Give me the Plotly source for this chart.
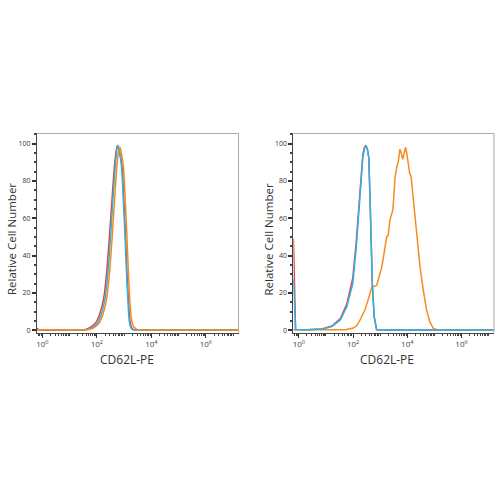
import plotly.graph_objects as go

# ---------------- data (x given as log10 of CD62L-PE intensity) ----------------
# Left panel
L_red_x   = [-0.2, -0.1, 1.0, 1.55, 1.76, 1.98, 2.11, 2.25, 2.36, 2.47, 2.57, 2.64, 2.72, 2.76, 2.82, 2.93, 2.99, 3.05, 3.11, 3.16, 3.21, 3.26, 3.34, 4.0, 7.2]
L_red_y   = [1.0, 0.2, 0.2, 0.3, 1.5, 4.5, 9, 17, 31, 52, 73, 87, 97, 99, 96, 87, 70, 51.6, 30, 16, 6, 2, 0.3, 0.1, 0.1]
L_cyan_x  = [-0.2, 1.0, 1.59, 1.8, 2.02, 2.15, 2.29, 2.40, 2.51, 2.60, 2.67, 2.74, 2.78, 2.83, 2.91, 2.97, 3.03, 3.09, 3.14, 3.18, 3.23, 3.30, 4.0, 7.2]
L_cyan_y  = [0.2, 0.2, 0.3, 1.2, 3.7, 8, 16, 30, 51.6, 72, 87, 97, 99, 96, 87, 70, 51.6, 30, 16, 6, 2, 0.3, 0.1, 0.1]
L_orng_x  = [-0.2, 1.0, 1.65, 1.87, 2.08, 2.21, 2.35, 2.46, 2.57, 2.66, 2.73, 2.80, 2.85, 2.90, 2.98, 3.04, 3.10, 3.16, 3.21, 3.27, 3.35, 3.49, 4.0, 7.2]
L_orng_y  = [0.2, 0.2, 0.3, 1.2, 3.7, 8, 16, 30, 51.6, 72, 87, 96, 98, 95, 87, 70, 51.6, 30, 16, 6, 2, 0.3, 0.1, 0.1]

# Right panel
R_red_x   = [-0.2, -0.12, 0.3, 0.67, 0.85, 1.22, 1.53, 1.77, 1.99, 2.11, 2.20, 2.29, 2.36, 2.42, 2.47, 2.53, 2.58, 2.63, 2.68, 2.71, 2.78, 2.87, 3.2, 7.2]
R_red_y   = [49, 0.4, 0.2, 0.3, 0.7, 2.3, 6.2, 14, 28, 46, 64, 82, 94, 98, 99, 97, 92.5, 69, 42.8, 25, 7.3, 0.3, 0.1, 0.1]
R_cyan_x  = [-0.2, -0.12, 0.3, 0.67, 0.85, 1.22, 1.53, 1.77, 1.99, 2.11, 2.20, 2.29, 2.36, 2.43, 2.48, 2.53, 2.58, 2.63, 2.68, 2.71, 2.78, 2.87, 3.2, 7.2]
R_cyan_y  = [27.5, 0.4, 0.2, 0.3, 0.6, 2, 5.5, 12.6, 25, 42.8, 60.5, 78, 92.5, 97.5, 98.7, 97, 92.5, 69, 42.8, 25, 7.3, 0.3, 0.1, 0.1]
R_orng_x  = [-0.2, 1.0, 1.71, 2.01, 2.14, 2.26, 2.44, 2.55, 2.63, 2.70, 2.80, 2.87, 2.93, 3.00, 3.06, 3.12, 3.18, 3.24, 3.30, 3.36, 3.43, 3.47, 3.51, 3.55, 3.61, 3.67, 3.73, 3.78, 3.83, 3.88, 3.94, 3.99, 4.04, 4.09, 4.14, 4.22, 4.35, 4.47, 4.59, 4.71, 4.83, 4.96, 5.14, 7.2]
R_orng_y  = [0.2, 0.2, 0.3, 1.2, 2.5, 5.5, 11, 16, 20, 23.3, 23.5, 24, 27, 30.4, 34, 39, 43.5, 50, 51, 59, 62.5, 64.5, 73, 82, 87.2, 90.5, 97, 95, 91.5, 95, 98, 94, 87.5, 84, 82.5, 71, 52, 34, 21.5, 11, 4.6, 1, 0.2, 0.2]

label_exp = [0, 2, 4, 6]
y_ticks = [0, 20, 40, 60, 80, 100]
x_title = "CD62L-PE"
y_title = "Relative Cell Number"

RED, CYAN, ORANGE = "#e5443d", "#27b5e8", "#f68b1f"

# ---------------- figure ----------------
fig = go.Figure()

def add(x, y, color, axis, shape):
    fig.add_trace(go.Scatter(
        x=[10 ** v for v in x], y=y, mode="lines",
        line=dict(color=color, width=1.5, shape=shape, smoothing=0.6),
        xaxis="x" + axis, yaxis="y" + axis, showlegend=False, hoverinfo="skip"))

add(L_red_x, L_red_y, RED, "", "spline")
add(L_cyan_x, L_cyan_y, CYAN, "", "spline")
add(L_orng_x, L_orng_y, ORANGE, "", "spline")
add(R_red_x, R_red_y, RED, "2", "linear")
add(R_orng_x, R_orng_y, ORANGE, "2", "linear")
add(R_cyan_x, R_cyan_y, CYAN, "2", "linear")

minor_x = [m * 10 ** e for e in range(-1, 8) for m in range(1, 10)
           if not (m == 1 and e in label_exp)]
tickvals = [10 ** e for e in label_exp]
ticktext = ["10<sup>%d</sup>" % e for e in label_exp]

def xaxis(domain, anchor):
    return dict(domain=domain, anchor=anchor, type="log", range=[-0.2, 7.2],
                tickmode="array", tickvals=tickvals, ticktext=ticktext,
                ticks="outside", ticklen=4, tickwidth=1.2, tickcolor="#333",
                showline=True, linecolor="#444", linewidth=1, showgrid=False,
                zeroline=False, tickfont=dict(family="Open Sans", size=8, color="#444"),
                minor=dict(tickmode="array", tickvals=minor_x, ticks="outside",
                           ticklen=2.5, tickcolor="#444", showgrid=False))

def yaxis(domain, anchor):
    return dict(domain=domain, anchor=anchor, range=[-1.3, 105.4],
                tickmode="array", tickvals=y_ticks,
                ticks="outside", ticklen=4, tickwidth=1.5, tickcolor="#333",
                showline=True, linecolor="#444", linewidth=1, showgrid=False,
                zeroline=False, tickfont=dict(family="Open Sans", size=7, color="#333"),
                minor=dict(dtick=5, ticks="outside", ticklen=2, tickcolor="#444",
                           showgrid=False))

ydom = [1 - 334 / 500, 1 - 134 / 500]
fig.update_layout(
    width=500, height=500, margin=dict(l=0, r=0, t=0, b=0),
    paper_bgcolor="white", plot_bgcolor="white",
    xaxis=xaxis([36 / 500, 238 / 500], "y"),
    yaxis=yaxis(ydom, "x"),
    xaxis2=xaxis([293 / 500, 494 / 500], "y2"),
    yaxis2=yaxis(ydom, "x2"),
)

# gray frame on top and right
for x0, x1 in [(36 / 500, 238 / 500), (293 / 500, 494 / 500)]:
    fig.add_shape(type="line", xref="paper", yref="paper", x0=x0, x1=x1, y0=ydom[1], y1=ydom[1],
                  line=dict(color="#aaaaaa", width=1))
    fig.add_shape(type="line", xref="paper", yref="paper", x0=x1, x1=x1, y0=ydom[0], y1=ydom[1],
                  line=dict(color="#aaaaaa", width=1))

# axis titles
for cx, ty in [(126, 10), (387, 268)]:
    fig.add_annotation(text=x_title, xref="paper", yref="paper", x=cx / 500, y=1 - 361 / 500,
                       showarrow=False, xanchor="center", yanchor="middle",
                       font=dict(family="Open Sans", size=12, color="#333"))
    fig.add_annotation(text=y_title, xref="paper", yref="paper", x=ty / 500, y=1 - 240 / 500,
                       showarrow=False, textangle=-90, xanchor="center", yanchor="middle",
                       font=dict(family="Open Sans", size=11.5, color="#333"))

fig.write_html("out.html")
